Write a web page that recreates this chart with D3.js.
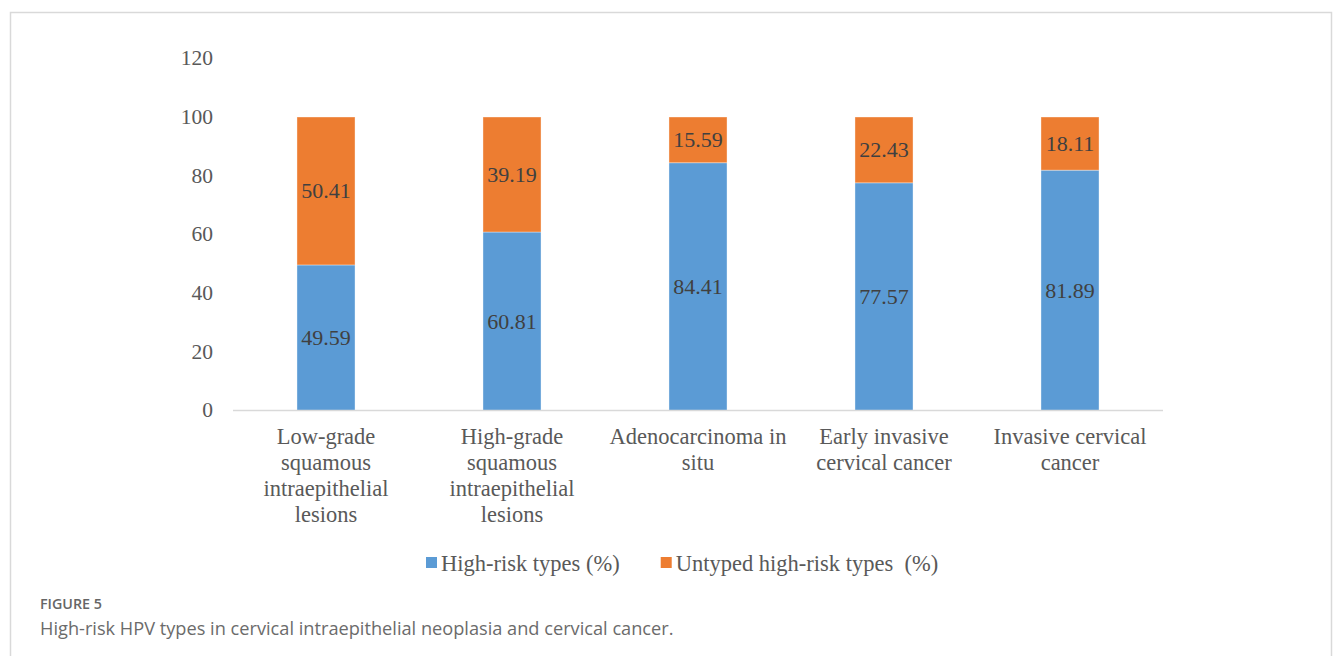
<!DOCTYPE html>
<html>
<head>
<meta charset="utf-8">
<script src="https://cdn.jsdelivr.net/npm/d3@7"></script>
<style>
  html, body { margin: 0; padding: 0; background: #ffffff; }
  svg { display: block; }
</style>
</head>
<body>
<svg id="chart" width="1333" height="656"></svg>
<script>
// Lesion categories along the x axis
const categories = [
  "Low-grade squamous intraepithelial lesions",
  "High-grade squamous intraepithelial lesions",
  "Adenocarcinoma in situ",
  "Early invasive cervical cancer",
  "Invasive cervical cancer"
];
// Stacked series values (%)
const highRisk = [49.59, 60.81, 84.41, 77.57, 81.89];
const untypedHighRisk = [50.41, 39.19, 15.59, 22.43, 18.11];
const seriesNames = ["High-risk types (%)", "Untyped high-risk types  (%)"];
const seriesColors = ["#5B9BD5", "#ED7D31"];
const yTicks = [0, 20, 40, 60, 80, 100, 120];
const figureLabel = "FIGURE 5";
const captionText = "High-risk HPV types in cervical intraepithelial neoplasia and cervical cancer.";

const svg = d3.select("#chart");
const serif = "'Liberation Serif', 'Times New Roman', serif";
const sans = "'Open Sans', 'Noto Sans', sans-serif";

// Figure frame (top, left and right edges)
svg.append("path")
  .attr("d", "M10.5,656 V12.5 H1331.5 V656")
  .attr("fill", "none")
  .attr("stroke", "#d9d9d9")
  .attr("stroke-width", 1.5);

const plot = { left: 233, right: 1163, top: 58.3, bottom: 410.5 };

const x = d3.scaleBand()
  .domain(categories)
  .range([plot.left, plot.right])
  .paddingInner(0.688)
  .paddingOuter(0.344);

const y = d3.scaleLinear()
  .domain([0, 120])
  .range([plot.bottom, plot.top]);

// Y tick labels (no axis line, no gridlines)
const yAxis = d3.axisLeft(y).tickValues(yTicks).tickSize(0).tickPadding(20);
const yG = svg.append("g")
  .attr("transform", `translate(${plot.left},0)`)
  .call(yAxis);
yG.select(".domain").remove();
yG.selectAll("text")
  .attr("font-family", serif)
  .attr("font-size", 21.5)
  .attr("fill", "#595959")
  .attr("dy", "0.3em");

// Stack the two series
const rows = categories.map((c, i) => ({ cat: c, a: highRisk[i], b: untypedHighRisk[i] }));
const stack = d3.stack().keys(["a", "b"]);
const layers = stack(rows);

const layerG = svg.selectAll("g.layer")
  .data(layers)
  .join("g")
  .attr("class", "layer")
  .attr("fill", (d, i) => seriesColors[i]);

layerG.selectAll("rect")
  .data(d => d)
  .join("rect")
  .attr("x", d => x(d.data.cat))
  .attr("width", x.bandwidth())
  .attr("y", d => y(d[1]))
  .attr("height", d => y(d[0]) - y(d[1]))
  .attr("stroke", "#ffffff")
  .attr("stroke-opacity", 0.45)
  .attr("stroke-width", 0.8);

// Value labels centred inside each segment
layerG.selectAll("text")
  .data(d => d.map(s => ({ s, v: s[1] - s[0] })))
  .join("text")
  .attr("x", d => x(d.s.data.cat) + x.bandwidth() / 2)
  .attr("y", d => y((d.s[0] + d.s[1]) / 2))
  .attr("dy", "0.34em")
  .attr("text-anchor", "middle")
  .attr("font-family", serif)
  .attr("font-size", 22)
  .attr("fill", "#404040")
  .text(d => d.v.toFixed(2));

// Baseline
svg.append("line")
  .attr("x1", plot.left).attr("x2", plot.right)
  .attr("y1", y(0)).attr("y2", y(0))
  .attr("stroke", "#d9d9d9")
  .attr("stroke-width", 1.5);

// Category labels, wrapped to fit the band
const maxLabelWidth = 185;
const lineHeight = 26;
categories.forEach(cat => {
  const t = svg.append("text")
    .attr("text-anchor", "middle")
    .attr("font-family", serif)
    .attr("font-size", 22.5)
    .attr("fill", "#595959");
  const cx = x(cat) + x.bandwidth() / 2;
  const words = cat.split(" ");
  const lines = [];
  let current = [];
  const probe = t.append("tspan");
  words.forEach(w => {
    const trial = current.concat(w).join(" ");
    probe.text(trial);
    if (probe.node().getComputedTextLength() > maxLabelWidth && current.length) {
      lines.push(current.join(" "));
      current = [w];
    } else {
      current.push(w);
    }
  });
  lines.push(current.join(" "));
  probe.remove();
  lines.forEach((ln, i) => {
    t.append("tspan")
      .attr("x", cx)
      .attr("y", 444 + i * lineHeight)
      .text(ln);
  });
});

// Legend
const legend = svg.append("g").attr("transform", "translate(0,563)");
let lx = 426;
seriesNames.forEach((name, i) => {
  legend.append("rect")
    .attr("x", lx).attr("y", -6)
    .attr("width", 11).attr("height", 11)
    .attr("fill", seriesColors[i]);
  const txt = legend.append("text")
    .attr("x", lx + 15)
    .attr("y", 0)
    .attr("dy", "0.34em")
    .attr("font-family", serif)
    .attr("font-size", 22.5)
    .attr("fill", "#595959")
    .style("white-space", "pre")
    .attr("xml:space", "preserve")
    .text(name);
  lx = lx + 15 + txt.node().getComputedTextLength() + 41;
});

// Caption
svg.append("text")
  .attr("x", 40).attr("y", 609)
  .attr("font-family", sans)
  .attr("font-size", 14.3)
  .attr("font-weight", 600)
  .attr("fill", "#666666")
  .text(figureLabel);

svg.append("text")
  .attr("x", 40).attr("y", 635)
  .attr("font-family", sans)
  .attr("font-size", 18.2)
  .attr("fill", "#6b6b6b")
  .text(captionText);
</script>
</body>
</html>
